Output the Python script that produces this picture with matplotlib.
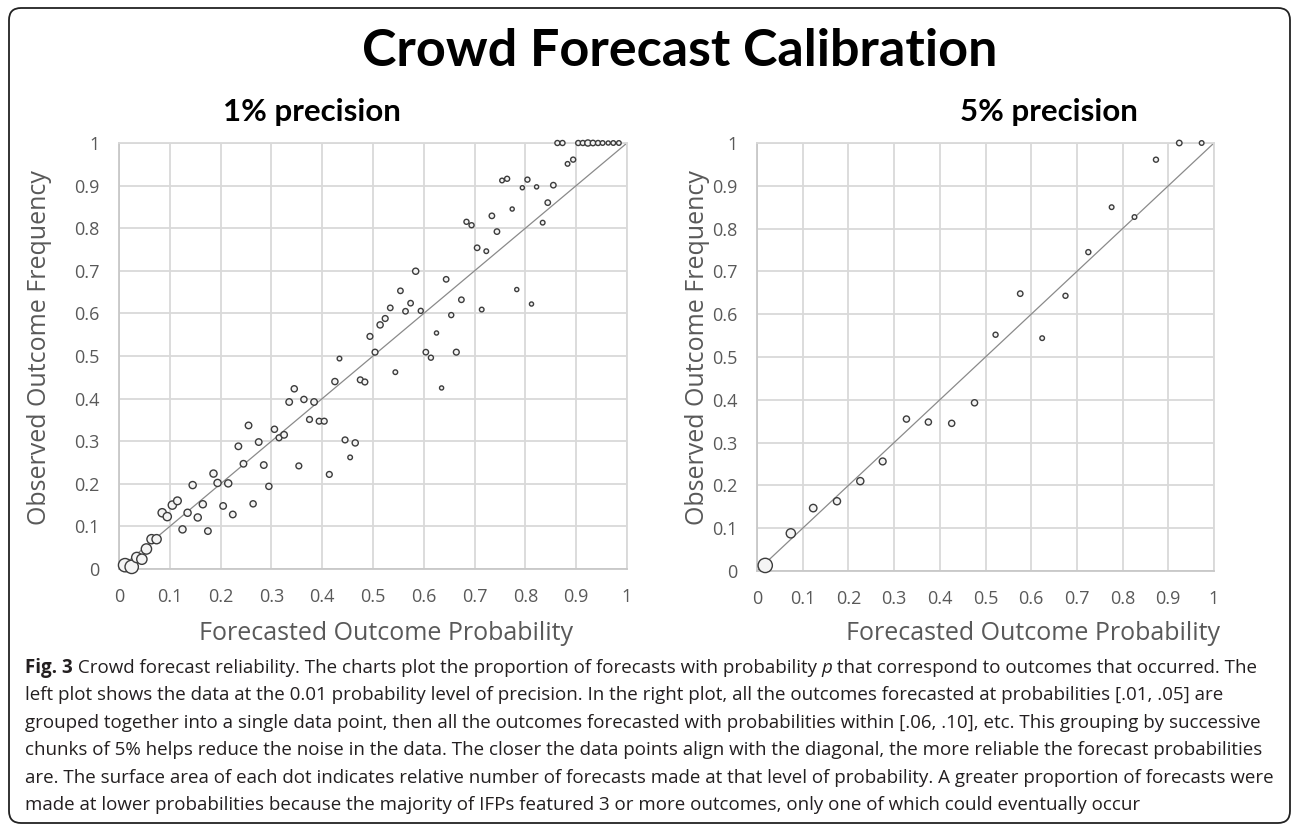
import matplotlib
matplotlib.use("Agg")
import matplotlib.pyplot as plt
from matplotlib.patches import FancyBboxPatch
from matplotlib.transforms import IdentityTransform

# -------- data ----------------------------------
# 1% precision: forecast prob, observed freq, relative number of forecasts
p1_x = [0.012, 0.025, 0.035, 0.045, 0.054, 0.064, 0.074, 0.085, 0.095, 0.105,
        0.115, 0.125, 0.135, 0.145, 0.155, 0.165, 0.175, 0.186, 0.194, 0.205,
        0.215, 0.224, 0.235, 0.245, 0.255, 0.264, 0.275, 0.285, 0.295, 0.306,
        0.315, 0.325, 0.335, 0.345, 0.354, 0.364, 0.375, 0.384, 0.394, 0.404,
        0.414, 0.425, 0.434, 0.445, 0.455, 0.465, 0.475, 0.484, 0.494, 0.504,
        0.514, 0.524, 0.534, 0.544, 0.554, 0.564, 0.574, 0.584, 0.594, 0.604,
        0.614, 0.625, 0.635, 0.644, 0.654, 0.664, 0.674, 0.684, 0.694, 0.705,
        0.714, 0.723, 0.734, 0.744, 0.754, 0.764, 0.774, 0.783, 0.794, 0.804,
        0.812, 0.822, 0.834, 0.844, 0.855, 0.863, 0.873, 0.883, 0.894, 0.904,
        0.913, 0.923, 0.933, 0.943, 0.952, 0.963, 0.973, 0.984]
p1_y = [0.009, 0.005, 0.027, 0.023, 0.047, 0.070, 0.070, 0.132, 0.123, 0.150,
        0.160, 0.093, 0.132, 0.197, 0.121, 0.152, 0.089, 0.224, 0.202, 0.148,
        0.201, 0.128, 0.288, 0.247, 0.337, 0.153, 0.298, 0.244, 0.194, 0.328,
        0.308, 0.315, 0.392, 0.423, 0.242, 0.398, 0.351, 0.392, 0.347, 0.347,
        0.222, 0.440, 0.494, 0.303, 0.262, 0.296, 0.444, 0.439, 0.546, 0.509,
        0.573, 0.588, 0.613, 0.462, 0.653, 0.605, 0.624, 0.699, 0.606, 0.509,
        0.496, 0.554, 0.425, 0.680, 0.596, 0.509, 0.632, 0.815, 0.807, 0.754,
        0.609, 0.746, 0.829, 0.792, 0.912, 0.916, 0.845, 0.656, 0.895, 0.914,
        0.622, 0.897, 0.813, 0.860, 0.901, 1.0, 1.0, 0.951, 0.961, 1.0,
        1.0, 1.0, 1.0, 1.0, 1.0, 1.0, 1.0, 1.0]
p1_n = [42, 42, 25, 25, 25, 20, 20, 16, 16, 16,
        14, 12, 12, 12, 12, 12, 10, 12, 12, 10,
        12, 10, 10, 10, 10, 9, 10, 10, 9, 9,
        8, 10, 10, 9, 8, 9, 8, 10, 8, 8,
        8, 9, 5, 8, 5, 9, 8, 8, 8, 8,
        9, 8, 7, 5, 7, 7, 7, 9, 6, 7,
        6, 4, 4, 7, 6, 8, 7, 6, 6, 7,
        5, 5, 7, 7, 5, 6, 4, 4, 4, 6,
        4, 4, 5, 7, 7, 6, 6, 5, 6, 6,
        6, 9, 7, 6, 5, 4, 5, 5]

# 5% precision
p5_x = [0.018, 0.074, 0.123, 0.175, 0.226, 0.275, 0.327, 0.375, 0.426, 0.476,
        0.522, 0.576, 0.624, 0.675, 0.725, 0.776, 0.826, 0.873, 0.924, 0.973]
p5_y = [0.013, 0.088, 0.147, 0.163, 0.210, 0.256, 0.355, 0.348, 0.345, 0.393,
        0.552, 0.648, 0.544, 0.643, 0.745, 0.850, 0.827, 0.961, 1.0, 1.0]
p5_n = [48, 20, 13, 12, 12, 11, 9, 9, 9, 9,
        6, 7, 5, 6, 6, 5, 5, 6, 7, 5]

ticks = [0, 0.1, 0.2, 0.3, 0.4, 0.5, 0.6, 0.7, 0.8, 0.9, 1]
tick_labels = ["0", "0.1", "0.2", "0.3", "0.4", "0.5", "0.6", "0.7", "0.8", "0.9", "1"]

caption_lines = [
    [("Fig. 3", "bold"), (" Crowd forecast reliability. The charts plot the proportion of forecasts with probability ", "normal"),
     ("p", "italic"), (" that correspond to outcomes that occurred. The", "normal")],
    [("left plot shows the data at the 0.01 probability level of precision. In the right plot, all the outcomes forecasted at probabilities [.01, .05] are", "normal")],
    [("grouped together into a single data point, then all the outcomes forecasted with probabilities within [.06, .10], etc. This grouping by successive", "normal")],
    [("chunks of 5% helps reduce the noise in the data. The closer the data points align with the diagonal, the more reliable the forecast probabilities", "normal")],
    [("are. The surface area of each dot indicates relative number of forecasts made at that level of probability. A greater proportion of forecasts were", "normal")],
    [("made at lower probabilities because the majority of IFPs featured 3 or more outcomes, only one of which could eventually occur", "normal")],
]

W, H = 1292, 827
GRAY = "#595959"
GRID = "#d9d9d9"

fig = plt.figure(figsize=(W / 100, H / 100), dpi=100)
fig.patch.set_facecolor("white")


def fx(px):
    return px / W


def fy(py):
    return 1 - py / H


def style_axes(ax, x, y, n):
    ax.set_xlim(0, 1)
    ax.set_ylim(0, 1)
    ax.set_xticks(ticks)
    ax.set_yticks(ticks)
    ax.set_xticklabels(tick_labels)
    ax.set_yticklabels(tick_labels)
    ax.tick_params(length=0, labelsize=13, labelcolor=GRAY)
    ax.tick_params(axis="y", pad=14)
    ax.tick_params(axis="x", pad=14)
    for lab in ax.get_xticklabels() + ax.get_yticklabels():
        lab.set_fontfamily("Open Sans")
    ax.grid(True, color=GRID, lw=1.3)
    ax.set_axisbelow(True)
    for s in ax.spines.values():
        s.set_color(GRID)
        s.set_linewidth(1.3)
    ax.spines["left"].set_color("#c8c8c8")
    ax.spines["bottom"].set_color("#c8c8c8")
    ax.plot([0, 1], [0, 1], color="#8a8a8a", lw=0.9, zorder=2)
    sizes = [2.2 * v for v in n]
    ax.scatter(x, y, s=sizes, facecolor="#f4f4f4", edgecolor="#3c3c3c",
               linewidth=1.0, zorder=3, clip_on=False)


ax1 = fig.add_axes([fx(119), fy(569), fx(627 - 119), (569 - 143) / H])
style_axes(ax1, p1_x, p1_y, p1_n)
ax2 = fig.add_axes([fx(757), fy(571), fx(1214 - 757), (571 - 143) / H])
style_axes(ax2, p5_x, p5_y, p5_n)

# titles
fig.text(fx(680), fy(66), "Crowd Forecast Calibration", family="Lato", weight="bold",
         fontsize=37.5, ha="center", va="baseline", color="black")
fig.text(fx(312), fy(121), "1% precision", family="Lato", weight="bold",
         fontsize=22.5, ha="center", va="baseline", color="black")
fig.text(fx(1049), fy(121), "5% precision", family="Lato", weight="bold",
         fontsize=22.5, ha="center", va="baseline", color="black")

# axis labels
for cx in (386, 1033):
    fig.text(fx(cx), fy(634), "Forecasted Outcome Probability", family="Open Sans",
             fontsize=18, ha="center", va="center", color=GRAY)
for cx in (40, 697):
    fig.text(fx(cx), fy(348), "Observed Outcome Frequency", family="Open Sans",
             fontsize=18, ha="center", va="center", color=GRAY, rotation=90)

# caption, drawn piece by piece so bold / italic can sit inline
renderer = fig.canvas.get_renderer()
for i, pieces in enumerate(caption_lines):
    xpos = 25
    ypos = 673 + i * 27.4
    for txt, st in pieces:
        kw = dict(family="Open Sans", fontsize=13.5, color="#231f20", va="baseline", ha="left")
        if st == "bold":
            kw["weight"] = "bold"
        if st == "italic":
            kw["style"] = "italic"
        t = fig.text(fx(xpos), fy(ypos), txt, **kw)
        bb = t.get_window_extent(renderer)
        xpos += bb.width

# rounded frame around everything
frame = FancyBboxPatch((9, 4), 1281, 815, boxstyle="round,pad=0,rounding_size=12",
                       transform=IdentityTransform(), facecolor="none",
                       edgecolor="#222222", lw=1.3)
fig.patches.append(frame)

fig.savefig("out.png", dpi=100)
